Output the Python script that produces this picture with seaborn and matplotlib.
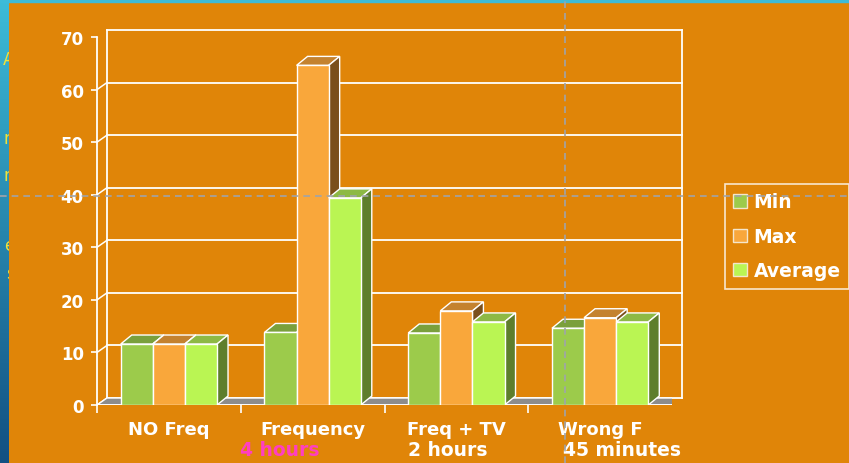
import numpy as np
import pandas as pd
import seaborn as sns
import matplotlib.pyplot as plt
from matplotlib.patches import Polygon, Rectangle
from matplotlib.lines import Line2D
from matplotlib.transforms import IdentityTransform, ScaledTranslation, blended_transform_factory

# data
categories = ["NO Freq", "Frequency", "Freq + TV", "Wrong F"]
sub_labels = ["", "4 hours", "2 hours", "45 minutes"]
sub_colors = ["white", "#FF3FC0", "white", "white"]
series = ["Min", "Max", "Average"]
min_vals = [11.6, 13.8, 13.7, 14.6]
max_vals = [11.6, 64.6, 17.9, 16.6]
avg_vals = [11.6, 39.4, 15.8, 15.8]
y_ticks = [0, 10, 20, 30, 40, 50, 60, 70]

# colours: front face, top face, side face
front_cols = ["#9CCB4B", "#F9A73B", "#BAF553"]
top_cols = ["#7AA03C", "#C4822F", "#8DB945"]
side_cols = ["#5E7E2C", "#7A4F1C", "#5E7E2C"]
bg = "#E08508"
wdx, wdy = 10, 7   # depth of walls / floor, pixels
bdx, bdy = 11, 9   # depth of the bars, pixels

df = pd.DataFrame({
    "category": categories * 3,
    "series": np.repeat(series, len(categories)),
    "value": min_vals + max_vals + avg_vals,
})

plt.rcParams["font.family"] = ["DejaVu Sans"]
plt.rcParams["font.weight"] = "bold"

fig = plt.figure(figsize=(8.49, 4.64), dpi=100, facecolor=bg)

# slide edges showing round the chart
strip = fig.add_axes([0, 0, 9 / 849, 1])
grad = np.linspace(0, 1, 200)[:, None, None]
top_c = np.array([60, 188, 216]) / 255
bot_c = np.array([18, 80, 130]) / 255
strip.imshow(top_c * (1 - grad) + bot_c * grad, aspect="auto",
             extent=(0, 1, 0, 1))
for yy, ch in [(0.87, "A"), (0.70, "n"), (0.62, "n"), (0.47, "e"), (0.41, "s")]:
    t = strip.text(1.6, yy, ch, transform=strip.transAxes, color="#EEE23A",
                   fontsize=12, fontweight="normal", ha="right", va="center")
    t.set_clip_box(strip.bbox)
    t.set_clip_on(True)
strip.axis("off")
fig.add_artist(Rectangle((0, 1 - 3 / 464), 1, 3 / 464, transform=fig.transFigure,
                         color="#3DBBD8", zorder=5))

ax = fig.add_axes([97 / 849, 58 / 464, 575 / 849, 368 / 464])
ax.set_facecolor("none")

sns.barplot(data=df, x="category", y="value", hue="series", palette=front_cols,
            saturation=1, width=0.67, errorbar=None, edgecolor="white",
            linewidth=1, ax=ax, legend=False)
bars = list(ax.patches)

ax.set_xlim(-0.5, 3.5)
ax.set_ylim(0, 70)

back = ax.transData + ScaledTranslation(wdx / 100, wdy / 100, fig.dpi_scale_trans)
ident = IdentityTransform()

# back wall
for y in y_ticks:
    ax.plot([-0.5, 3.5], [y, y], transform=back, color="white", lw=1.3,
            zorder=0.5, clip_on=False)
    p = ax.transData.transform((-0.5, y))
    ax.add_line(Line2D([p[0], p[0] + wdx], [p[1], p[1] + wdy], transform=ident,
                       color="white", lw=1.1, zorder=0.5))
for x in [-0.5, 3.5]:
    ax.plot([x, x], [0, 70], transform=back, color="white", lw=1.3,
            zorder=0.5, clip_on=False)

# floor
f0 = ax.transData.transform((-0.5, 0))
f1 = ax.transData.transform((3.5, 0))
floor = Polygon([f0, f1, f1 + [wdx, wdy], f0 + [wdx, wdy]], closed=True,
                transform=ident, facecolor="#8C8C8C", edgecolor="white",
                lw=1, zorder=1)
ax.add_patch(floor)

# top and side faces for each bar, drawn left to right
bars_sorted = sorted(bars, key=lambda b: b.get_x())
for i, b in enumerate(bars_sorted):
    k = bars.index(b) // len(categories)
    x0, x1 = b.get_x(), b.get_x() + b.get_width()
    h = b.get_height()
    a0 = ax.transData.transform((x0, h))
    a1 = ax.transData.transform((x1, h))
    g1 = ax.transData.transform((x1, 0))
    z = 2 + i * 0.1
    ax.add_patch(Polygon([a0, a1, a1 + [bdx, bdy], a0 + [bdx, bdy]], closed=True,
                         transform=ident, facecolor=top_cols[k],
                         edgecolor="white", lw=1, zorder=z))
    ax.add_patch(Polygon([g1, a1, a1 + [bdx, bdy], g1 + [bdx, bdy]], closed=True,
                         transform=ident, facecolor=side_cols[k],
                         edgecolor="white", lw=1, zorder=z + 0.01))
    b.set_zorder(z + 0.02)

# axes, ticks, labels
for s in ["top", "right", "bottom"]:
    ax.spines[s].set_visible(False)
ax.spines["left"].set_color("white")
ax.spines["left"].set_linewidth(1.3)
ax.axhline(0, color="white", lw=1.3, zorder=1.5)

ax.set_yticks(y_ticks)
ax.tick_params(axis="y", colors="white", length=4, width=1.2, pad=5.5,
               labelsize=12)
for t in ax.get_yticklabels():
    t.set_fontweight("bold")

ax.set_xticks([-0.5, 0.5, 1.5, 2.5])
ax.set_xticklabels([])
ax.tick_params(axis="x", which="major", colors="white", length=6, width=1.2)
ax.set_xticks(range(len(categories)), minor=True)
ax.set_xticklabels(categories, minor=True, color="white", fontsize=13,
                   fontweight="bold")
ax.tick_params(axis="x", which="minor", length=0, pad=11)
ax.set_xlabel("")
ax.set_ylabel("")

trans = blended_transform_factory(ax.transData, ax.transAxes)
sub_x = [0, 0.77, 1.94, 3.15]
for x, lab, c in zip(sub_x, sub_labels, sub_colors):
    ax.text(x, -0.12, lab, transform=trans, color=c, fontsize=13.5,
            fontweight="bold", ha="center", va="center")

# legend
handles = [Rectangle((0, 0), 1, 1, facecolor=c, edgecolor="#F4E6CC", lw=1)
           for c in front_cols]
leg = fig.legend(handles, series, loc="upper left",
                 bbox_to_anchor=(725 / 849, 1 - 185 / 464), frameon=True,
                 fancybox=False, borderaxespad=0, handlelength=0.72,
                 handleheight=0.72, handletextpad=0.35, labelspacing=0.82,
                 borderpad=0.45, prop={"size": 13.5, "weight": "bold"})
leg.get_frame().set_facecolor(bg)
leg.get_frame().set_edgecolor("white")
leg.get_frame().set_linewidth(1.2)
for t in leg.get_texts():
    t.set_color("white")

# guide lines on top of the screenshot
fig.add_artist(Line2D([0, 1], [1 - 197 / 464] * 2, transform=fig.transFigure,
                      color="#A0A4AA", lw=1.2, ls=(0, (4, 3)), zorder=10))
fig.add_artist(Line2D([565 / 849] * 2, [0, 1], transform=fig.transFigure,
                      color="#A0A4AA", lw=1.2, ls=(0, (4, 3)), zorder=10))

fig.savefig("out.png", dpi=100, facecolor=bg)
